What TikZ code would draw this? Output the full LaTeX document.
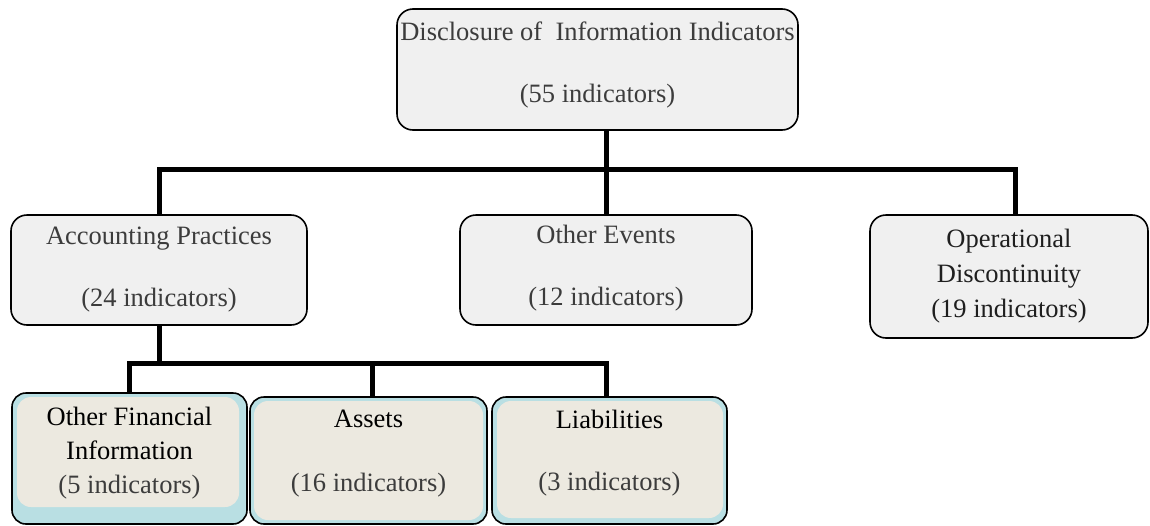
\documentclass[tikz,border=0pt]{standalone}
\usepackage{fontspec}
\setmainfont{Liberation Serif}
\usetikzlibrary{calc}
\definecolor{boxgray}{HTML}{F0F0F0}
\definecolor{outerblue}{HTML}{B9DFE3}
\definecolor{innerbeige}{HTML}{ECE9E0}
\definecolor{txtgray}{HTML}{3C3C3C}
\newcommand{\mydepth}[1]{\rule[-#1pt]{0pt}{#1pt}}
\tikzset{
  upbox/.style={draw=black, line width=1.6pt, fill=boxgray, rounded corners=16pt,
    align=center, inner sep=0pt, font=\fontsize{26.5}{35}\selectfont, text=txtgray},
  lowbox/.style={draw=black, line width=1.6pt, fill=outerblue, rounded corners=14pt,
    align=center, inner sep=0pt, font=\fontsize{26.5}{34}\selectfont, text=black},
  innerfill/.style n args={4}{path picture={
    \fill[innerbeige] ([shift={(#1pt,-#2pt)}]path picture bounding box.north west)
      rectangle ([shift={(-#3pt,#4pt)}]path picture bounding box.south east);}},
  conn/.style={line width=5pt, draw=black},
}
\begin{document}
\begin{tikzpicture}[x=1pt,y=-1pt]
\useasboundingbox (0,0) rectangle (1150,525);

\coordinate (bus1) at (606,169);
\coordinate (bus2) at (372,363);

% level 0
\node[upbox, minimum width=401pt, minimum height=121pt] (top) at (597.5,69.5)
  {Disclosure of\ \ Information Indicators\\[27pt](55 indicators)\mydepth{15}};

% level 1
\node[upbox, minimum width=296pt, minimum height=110pt] (acc) at (159,270)
  {Accounting Practices\\[27pt](24 indicators)};
\node[upbox, minimum width=292pt, minimum height=110pt] (ev) at (606,270)
  {Other Events\\[27pt](12 indicators)\mydepth{9}};
\node[upbox, text=black!88, minimum width=278pt, minimum height=123pt] (op) at (1009,276.5)
  {Operational\\Discontinuity\\(19 indicators)};

% level 2
\node[lowbox, innerfill={5}{4}{8}{17}, minimum width=235pt, minimum height=131pt] (ofi) at (129.5,458.5)
  {Other Financial\\Information\\\textcolor{txtgray}{(5 indicators)}\mydepth{17}};
\node[lowbox, innerfill={4}{4}{4}{4}, minimum width=237pt, minimum height=127pt] (as) at (368.5,460.5)
  {Assets\\[30pt]\textcolor{txtgray}{(16 indicators)}\mydepth{19}};
\node[lowbox, innerfill={5}{4}{4}{6}, minimum width=235pt, minimum height=127pt] (li) at (609.5,460.5)
  {Liabilities\\[28pt]\textcolor{txtgray}{(3 indicators)}\mydepth{21}};

% connectors level 0 -> 1
\draw[conn] (top.south -| ev.north) -- (ev.north);
\draw[conn] (acc.north) |- (bus1) -| ([xshift=6pt]op.north);

% connectors level 1 -> 2
\draw[conn] (acc.south) -- (acc.south |- bus2);
\draw[conn] (ofi.north) |- (bus2) -| (li.north -| ev.north);
\draw[conn] (bus2) -- ([xshift=3.5pt]as.north);
\end{tikzpicture}
\end{document}
